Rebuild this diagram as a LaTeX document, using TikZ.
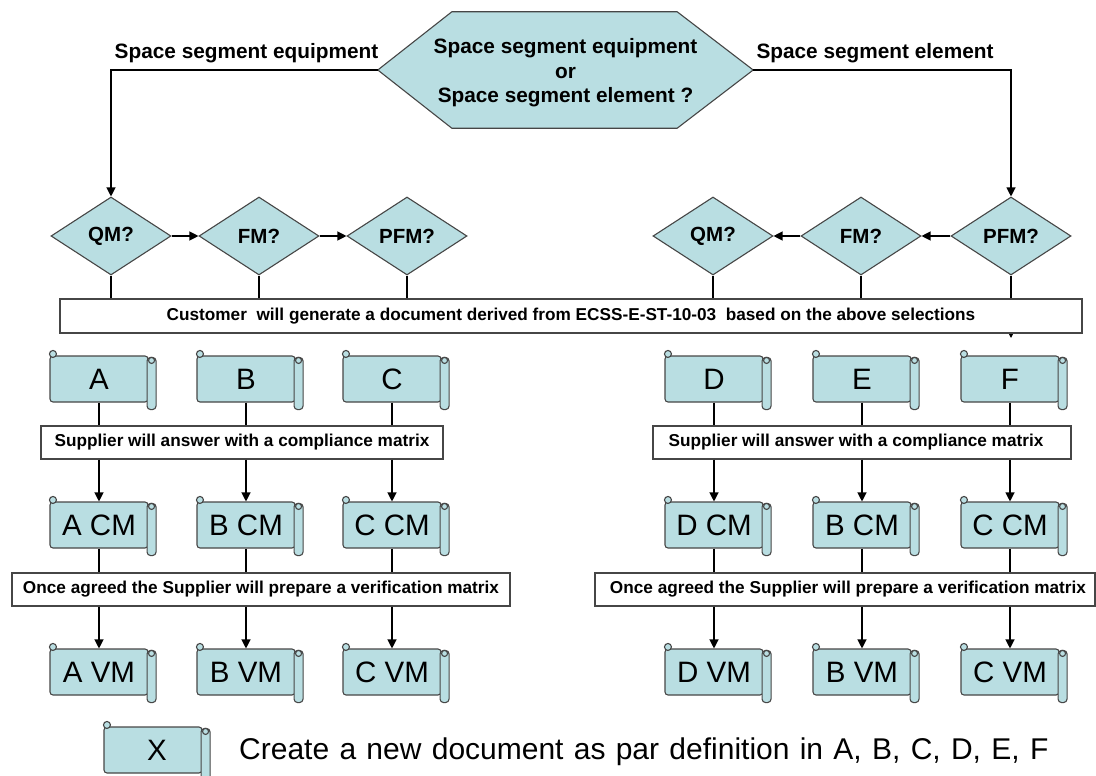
\documentclass[tikz,border=0pt]{standalone}
\usepackage{fontspec}
\setmainfont{Liberation Sans}
\usetikzlibrary{shapes.geometric,arrows.meta,backgrounds}
\definecolor{boxfill}{RGB}{185,222,226}
\definecolor{edgecol}{RGB}{70,70,70}
\tikzset{
  scrollbody/.style={draw=edgecol, fill=boxfill, line width=1.1pt, rounded corners=3pt,
    minimum width=98pt, minimum height=46pt, inner sep=0pt, font=\fontsize{29.5}{32}\selectfont},
  scrolledge/.style={draw=edgecol, fill=boxfill, line width=1.1pt, rounded corners=3.5pt},
  dia/.style={diamond, draw=edgecol, fill=boxfill, line width=1.1pt, minimum width=120pt,
    minimum height=78pt, inner sep=0pt, font=\bfseries\fontsize{20.5}{24}\selectfont},
  txtbox/.style={draw=edgecol, fill=white, line width=1.1pt, inner sep=0pt, minimum height=33pt,
    font=\bfseries\fontsize{17.2}{20}\selectfont},
  hexnode/.style={minimum width=375pt, minimum height=116pt, inner sep=0pt, align=center,
    font=\bfseries\fontsize{20.8}{24.5}\selectfont},
  hexdraw/.style={draw=edgecol, fill=boxfill, line width=1.1pt},
  conn/.style={draw=black, line width=1.2pt},
  arr/.style={conn, -{Triangle[length=9pt,width=9pt]}},
  lbl/.style={font=\bfseries\fontsize{20.8}{24}\selectfont, inner sep=0pt},
  legendtxt/.style={font=\fontsize{30}{33}\selectfont, inner sep=0pt},
}
\newcommand{\scrollpic}[4]{%
  \node[scrollbody] (#1) at (#2,#3+23) {#4};
  \draw[scrolledge] ([shift={(-1.5,2)}]#1.north east) rectangle ([shift={(7.5,7)}]#1.south east);
  \draw[scrolledge] ([shift={(3,5)}]#1.north east) circle (3pt);
  \draw[scrolledge] ([shift={(3.5,-1.5)}]#1.north west) circle (3.5pt);
}
\begin{document}
\begin{tikzpicture}[x=1pt,y=-1pt]
\useasboundingbox (0,0) rectangle (1096,776);

% top decision (text sits 3pt below the shape's centre)
\node[hexnode] (hex) at (565.5,73) {Space segment equipment\\or\\Space segment element ?};
\begin{pgfonlayer}{background}
\draw[hexdraw] ([shift={(0,-3)}]hex.west) -- ([shift={(74,-3)}]hex.north west) -- ([shift={(-76,-3)}]hex.north east)
  -- ([shift={(0,-3)}]hex.east) -- ([shift={(-76,-3)}]hex.south east) -- ([shift={(74,-3)}]hex.south west) -- cycle;
\end{pgfonlayer}
\coordinate (hexW) at ([shift={(0,-3)}]hex.west);
\coordinate (hexE) at ([shift={(0,-3)}]hex.east);

% diamonds
\node[dia] (qmL) at (111,236) {QM?};
\node[dia] (fmL) at (259,236) {FM?};
\node[dia] (pfmL) at (407,236) {PFM?};
\node[dia] (qmR) at (713,236) {QM?};
\node[dia] (fmR) at (861,236) {FM?};
\node[dia] (pfmR) at (1011,236) {PFM?};

\node[lbl] (lblL) at (246.5,53.5) {Space segment equipment};
\node[lbl] (lblR) at (875,53.5) {Space segment element};
\draw[arr] (hexW) -| (qmL.north);
\draw[arr] (hexE) -| (pfmR.north);
\draw[arr] (qmL.east) -- (fmL.west);
\draw[arr] (fmL.east) -- (pfmL.west);
\draw[arr] (pfmR.west) -- (fmR.east);
\draw[arr] (fmR.west) -- (qmR.east);

\coordinate (ftip) at (1011,338);
\draw[arr] (pfmR.south) -- (pfmR.south |- ftip);

\node[txtbox, minimum width=1022pt, minimum height=34pt] (cust) at (571,316)
  {Customer\ \ will generate a document derived from ECSS-E-ST-10-03\ \ based on the above selections};
\foreach \d in {qmL,fmL,pfmL,qmR,fmR}
  \draw[conn] (\d.south) -- (\d.south |- cust.north);

% scrolls
\scrollpic{A}{99}{356}{A}
\scrollpic{B}{246}{356}{B}
\scrollpic{C}{392}{356}{C}
\scrollpic{D}{714}{356}{D}
\scrollpic{E}{862}{356}{E}
\scrollpic{F}{1010}{356}{F}

\node[txtbox, minimum width=402pt] (compL) at (242,442.5) {Supplier will answer with a compliance matrix};
\node[txtbox, minimum width=418pt] (compR) at (862,442.5) {\hspace{-12pt}Supplier will answer with a compliance matrix};

\scrollpic{ACM}{99}{502}{A CM}
\scrollpic{BCM}{246}{502}{B CM}
\scrollpic{CCM}{392}{502}{C CM}
\scrollpic{DCM}{714}{502}{D CM}
\scrollpic{BCMb}{862}{502}{B CM}
\scrollpic{CCMb}{1010}{502}{C CM}

\node[txtbox, minimum width=498pt] (verL) at (261,589.5) {Once agreed the Supplier will prepare a verification matrix};
\node[txtbox, minimum width=500pt] (verR) at (845,589.5) {\hspace{6pt}Once agreed the Supplier will prepare a verification matrix};

\scrollpic{AVM}{99}{649}{A VM}
\scrollpic{BVM}{246}{649}{B VM}
\scrollpic{CVM}{392}{649}{C VM}
\scrollpic{DVM}{714}{649}{D VM}
\scrollpic{BVMb}{862}{649}{B VM}
\scrollpic{CVMb}{1010}{649}{C VM}

\foreach \t/\c/\v/\b/\w in {A/ACM/AVM/compL/verL, B/BCM/BVM/compL/verL, C/CCM/CVM/compL/verL,
    D/DCM/DVM/compR/verR, E/BCMb/BVMb/compR/verR, F/CCMb/CVMb/compR/verR} {
  \draw[conn] (\t.south) -- (\t.south |- \b.north);
  \draw[arr] (\c.north |- \b.south) -- (\c.north);
  \draw[conn] (\c.south) -- (\c.south |- \w.north);
  \draw[arr] (\v.north |- \w.south) -- (\v.north);
}

% legend
\scrollpic{X}{153}{727}{\hspace{8pt}X}
\node[legendtxt, anchor=west] (legtxt) at (239,752) {\spaceskip=10.3pt\relax Create a new document as par definition in A, B, C, D, E, F};
\end{tikzpicture}
\end{document}
